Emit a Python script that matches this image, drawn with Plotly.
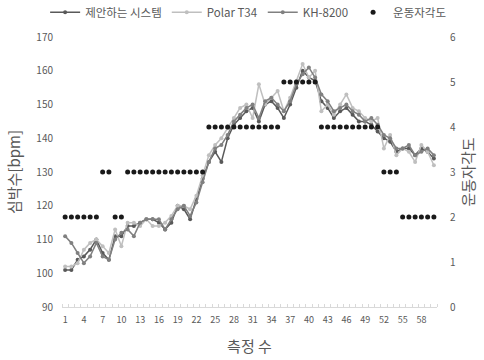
import plotly.graph_objects as go

# Measurement index (1..60)
measure = list(range(1, 61))

# Heart rate [bpm] for each device
proposed = [101, 101, 104, 105, 107, 110, 106, 104, 111, 111,
            114, 114, 115, 116, 116, 115, 113, 115, 120, 119,
            116, 122, 128, 133, 136, 133, 140, 144, 146, 148,
            149, 145, 150, 151, 149, 146, 150, 155, 160, 158,
            157, 151, 149, 146, 148, 149, 147, 145, 145, 144,
            142, 140, 139, 136, 137, 137, 135, 137, 136, 134]
polar = [102, 102, 103, 107, 109, 110, 108, 106, 113, 108,
         115, 115, 114, 116, 114, 114, 115, 117, 120, 120,
         119, 123, 129, 135, 138, 140, 143, 146, 149, 150,
         146, 156, 150, 152, 154, 148, 152, 157, 162, 158,
         160, 148, 150, 147, 150, 153, 149, 148, 146, 145,
         146, 137, 141, 135, 137, 136, 133, 138, 136, 132]
kh8200 = [111, 109, 106, 103, 105, 109, 105, 104, 110, 112,
          113, 111, 115, 116, 116, 116, 113, 116, 119, 120,
          117, 121, 127, 133, 137, 138, 141, 145, 147, 149,
          150, 146, 151, 152, 150, 148, 151, 156, 159, 161,
          158, 153, 151, 148, 149, 150, 148, 147, 145, 146,
          144, 141, 140, 137, 137, 138, 135, 136, 137, 135]

# Rating of perceived exertion
rpe = [2, 2, 2, 2, 2, 2, 3, 3, 2, 2,
       3, 3, 3, 3, 3, 3, 3, 3, 3, 3,
       3, 3, 3, 4, 4, 4, 4, 4, 4, 4,
       4, 4, 4, 4, 4, 5, 5, 5, 5, 5,
       5, 4, 4, 4, 4, 4, 4, 4, 4, 4,
       4, 3, 3, 3, 2, 2, 2, 2, 2, 2]

x_ticks = list(range(1, 61, 3))

FONT = "Noto Sans CJK KR"
GRAY = "#595959"

fig = go.Figure()
fig.add_trace(go.Scatter(x=measure, y=proposed, name="제안하는 시스템", mode="lines+markers",
                         line=dict(color="#595959", width=1.5), marker=dict(size=4, color="#595959")))
fig.add_trace(go.Scatter(x=measure, y=polar, name="Polar T34", mode="lines+markers",
                         line=dict(color="#bfbfbf", width=1.5), marker=dict(size=4, color="#bfbfbf")))
fig.add_trace(go.Scatter(x=measure, y=kh8200, name="KH-8200", mode="lines+markers",
                         line=dict(color="#808080", width=1.5), marker=dict(size=4, color="#808080")))
fig.add_trace(go.Scatter(x=measure, y=rpe, name="운동자각도", mode="markers", yaxis="y2",
                         marker=dict(size=5, color="#1a1a1a")))

fig.update_layout(
    width=484, height=360,
    margin=dict(l=62, r=47, t=37, b=53, autoexpand=False),
    paper_bgcolor="white", plot_bgcolor="white",
    font=dict(family=FONT, color=GRAY, size=10),
    showlegend=True,
    legend=dict(orientation="h", x=-0.045, xanchor="left",
                y=1.145, yanchor="top", font=dict(size=11.5, color=GRAY),
                itemwidth=30, tracegroupgap=0, bgcolor="rgba(0,0,0,0)"),
    xaxis=dict(range=[0.5, 60.5], tickmode="array", tickvals=x_ticks, automargin=False,
               ticktext=[str(v) for v in x_ticks], showgrid=False, zeroline=False,
               showline=True, linecolor="#d9d9d9", linewidth=1,
               ticks="", tickfont=dict(size=9, color=GRAY), ticklabelstandoff=4,
               minor=dict(tickmode="linear", tick0=0.5, dtick=1, ticks="inside",
                          ticklen=3, tickcolor="#d9d9d9", showgrid=False),
               title=dict(text="측정 수", font=dict(size=15, color=GRAY), standoff=16)),
    yaxis=dict(range=[90, 170], dtick=10, showgrid=False, zeroline=False, automargin=False,
               showline=False, ticks="", tickfont=dict(size=10, color=GRAY),
               ticklabelstandoff=8,
               title=dict(text="심박수[bpm]", font=dict(size=15, color=GRAY), standoff=12)),
    yaxis2=dict(range=[0, 6], dtick=1, overlaying="y", side="right", showgrid=False,
                zeroline=False, showline=False, ticks="", tickfont=dict(size=10, color=GRAY),
                ticklabelstandoff=12, automargin=False,
                title=dict(text="운동자각도", font=dict(size=15, color=GRAY), standoff=8)),
)

fig.write_html("out.html")
